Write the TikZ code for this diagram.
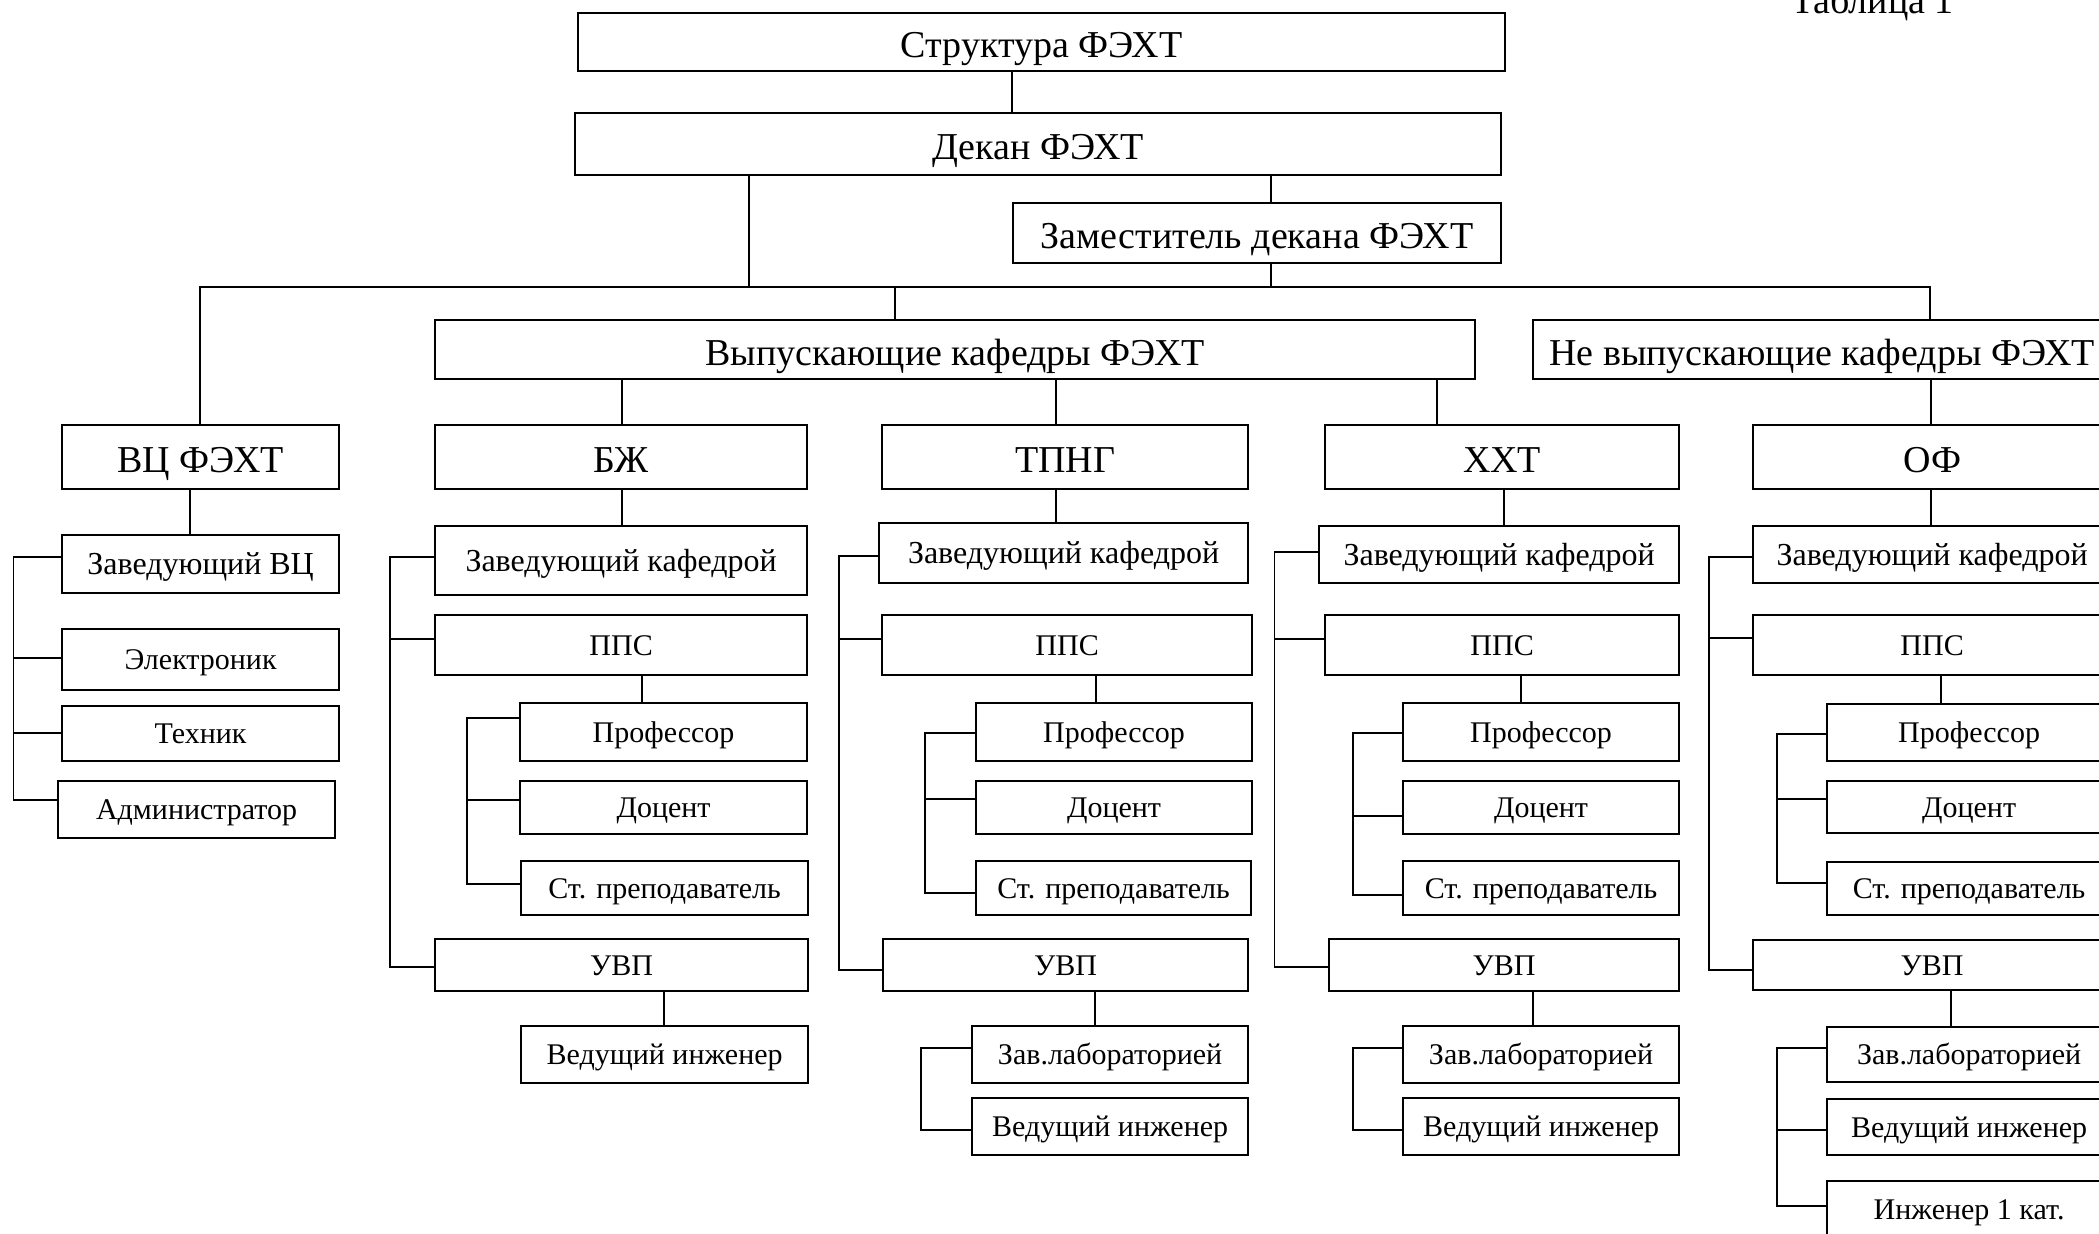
\documentclass[tikz,border=0pt]{standalone}
\usepackage{fontspec}
\setmainfont{Liberation Serif}
\tikzset{
  bx/.style={draw, line width=2.2pt, inner sep=0pt, anchor=north west, align=center},
  big/.style={font=\fontsize{38}{40}\selectfont, text height=31pt, text depth=0pt},
  med/.style={font=\fontsize{32}{34}\selectfont, text height=21pt, text depth=0pt},
  sml/.style={font=\fontsize{30}{32}\selectfont, text height=20pt, text depth=0pt},
  ln/.style={line width=1.6pt}
}
\newcommand{\mkbox}[7]{%
  \pgfmathsetmacro\bw{#5-#3}\pgfmathsetmacro\bh{#6-#4}%
  \node[bx,#1,minimum width=\bw pt,minimum height=\bh pt] (#2) at (#3,#4) {#7};}
\begin{document}
\begin{tikzpicture}[x=1pt,y=-1pt]
\clip (0,0) rectangle (2099,1234);
\fill[white] (0,0) rectangle (2099,1234);
% title
\node[font=\fontsize{38}{40}\selectfont, anchor=base west, inner sep=0pt] (tab) at (1791,13) {Таблица 1};
% top levels
\mkbox{big}{str}{577}{12}{1504}{70}{Структура ФЭХТ}
\mkbox{big}{dek}{574}{112}{1500}{174}{Декан ФЭХТ}
\mkbox{big}{zam}{1012}{202}{1500}{262}{Заместитель декана ФЭХТ}
\mkbox{big}{vyp}{434}{319}{1474}{378}{Выпускающие кафедры ФЭХТ}
\mkbox{big}{nevyp}{1532}{319}{2110}{378}{Не выпускающие кафедры ФЭХТ}
% level 2
\mkbox{big}{vc}{61}{424}{338}{488}{ВЦ ФЭХТ}
\mkbox{big}{bj}{434}{424}{806}{488}{БЖ}
\mkbox{big}{tp}{881}{424}{1247}{488}{ТПНГ}
\mkbox{big}{hh}{1324}{424}{1678}{488}{ХХТ}
\mkbox{big}{of}{1752}{424}{2110}{488}{ОФ}
% VC column
\mkbox{med}{vcZav}{61}{534}{338}{592}{Заведующий ВЦ}
\mkbox{sml}{vcEl}{61}{628}{338}{689}{Электроник}
\mkbox{sml}{vcTe}{61}{705}{338}{760}{Техник}
\mkbox{sml}{vcAd}{57}{780}{334}{837}{Администратор}
% BJ column
\mkbox{med}{bjZav}{434}{525}{806}{594}{Заведующий кафедрой}
\mkbox{sml}{bjPps}{434}{614}{806}{674}{ППС}
\mkbox{sml}{bjPr}{519}{702}{806}{760}{Профессор}
\mkbox{sml}{bjDo}{519}{780}{806}{833}{Доцент}
\mkbox{sml}{bjSt}{520}{860}{807}{914}{Ст. преподаватель}
\mkbox{sml}{bjUvp}{434}{938}{807}{990}{УВП}
\mkbox{sml}{bjVed}{520}{1025}{807}{1082}{Ведущий инженер}
% TPNG column
\mkbox{med}{tpZav}{878}{522}{1247}{582}{Заведующий кафедрой}
\mkbox{sml}{tpPps}{881}{614}{1251}{674}{ППС}
\mkbox{sml}{tpPr}{975}{702}{1251}{760}{Профессор}
\mkbox{sml}{tpDo}{975}{780}{1251}{833}{Доцент}
\mkbox{sml}{tpSt}{975}{860}{1250}{914}{Ст. преподаватель}
\mkbox{sml}{tpUvp}{882}{938}{1247}{990}{УВП}
\mkbox{sml}{tpZl}{971}{1025}{1247}{1082}{Зав.лабораторией}
\mkbox{sml}{tpVed}{971}{1097}{1247}{1154}{Ведущий инженер}
% HHT column
\mkbox{med}{hhZav}{1318}{525}{1678}{582}{Заведующий кафедрой}
\mkbox{sml}{hhPps}{1324}{614}{1678}{674}{ППС}
\mkbox{sml}{hhPr}{1402}{702}{1678}{760}{Профессор}
\mkbox{sml}{hhDo}{1402}{780}{1678}{833}{Доцент}
\mkbox{sml}{hhSt}{1402}{860}{1678}{914}{Ст. преподаватель}
\mkbox{sml}{hhUvp}{1328}{938}{1678}{990}{УВП}
\mkbox{sml}{hhZl}{1402}{1025}{1678}{1082}{Зав.лабораторией}
\mkbox{sml}{hhVed}{1402}{1097}{1678}{1154}{Ведущий инженер}
% OF column
\mkbox{med}{ofZav}{1752}{525}{2110}{582}{Заведующий кафедрой}
\mkbox{sml}{ofPps}{1752}{614}{2110}{674}{ППС}
\mkbox{sml}{ofPr}{1826}{703}{2110}{760}{Профессор}
\mkbox{sml}{ofDo}{1826}{780}{2110}{832}{Доцент}
\mkbox{sml}{ofSt}{1826}{861}{2110}{914}{Ст. преподаватель}
\mkbox{sml}{ofUvp}{1752}{939}{2110}{989}{УВП}
\mkbox{sml}{ofZl}{1826}{1026}{2110}{1081}{Зав.лабораторией}
\mkbox{sml}{ofVed}{1826}{1098}{2110}{1154}{Ведущий инженер}
\mkbox{sml}{ofIng}{1826}{1180}{2110}{1237}{Инженер 1 кат.}
% ---- connectors: top
\draw[ln] (str.south -| 1012,0) -- (dek.north -| 1012,0);
\draw[ln] (dek.south -| 1271,0) -- (zam.north -| 1271,0);
\draw[ln] (zam.south -| 1271,0) -- (1271,287);
\draw[ln] (dek.south -| 749,0) -- (749,287);
\draw[ln] (vc.north -| 200,0) -- (200,287) -- (1930,287) -- (nevyp.north -| 1930,0);
\draw[ln] (895,287) -- (vyp.north -| 895,0);
% level 2
\draw[ln] (vyp.south -| 622,0) -- (bj.north -| 622,0);
\draw[ln] (vyp.south -| 1056,0) -- (tp.north -| 1056,0);
\draw[ln] (vyp.south -| 1437,0) -- (hh.north -| 1437,0);
\draw[ln] (nevyp.south -| 1931,0) -- (of.north -| 1931,0);
% VC
\draw[ln] (vc.south -| 190,0) -- (vcZav.north -| 190,0);
\draw[ln] (vcZav.west |- 0,557) -| (13.5,800) -- (vcAd.west |- 0,800);
\draw[ln] (13.5,658) -- (vcEl.west |- 0,658);
\draw[ln] (13.5,733) -- (vcTe.west |- 0,733);
% BJ
\draw[ln] (bj.south -| 622,0) -- (bjZav.north -| 622,0);
\draw[ln] (bjPps.south -| 642,0) -- (bjPr.north -| 642,0);
\draw[ln] (bjUvp.south -| 664,0) -- (bjVed.north -| 664,0);
\draw[ln] (bjZav.west |- 0,557) -| (390,967) -- (bjUvp.west |- 0,967);
\draw[ln] (390,639) -- (bjPps.west |- 0,639);
\draw[ln] (bjPr.west |- 0,718) -| (467,884) -- (bjSt.west |- 0,884);
\draw[ln] (467,800) -- (bjDo.west |- 0,800);
% TPNG
\draw[ln] (tp.south -| 1056,0) -- (tpZav.north -| 1056,0);
\draw[ln] (tpPps.south -| 1096,0) -- (tpPr.north -| 1096,0);
\draw[ln] (tpUvp.south -| 1095,0) -- (tpZl.north -| 1095,0);
\draw[ln] (tpZav.west |- 0,556) -| (839,970) -- (tpUvp.west |- 0,970);
\draw[ln] (839,639) -- (tpPps.west |- 0,639);
\draw[ln] (tpPr.west |- 0,733) -| (925,893) -- (tpSt.west |- 0,893);
\draw[ln] (925,799) -- (tpDo.west |- 0,799);
\draw[ln] (tpZl.west |- 0,1048) -| (921,1130) -- (tpVed.west |- 0,1130);
% HHT
\draw[ln] (hh.south -| 1504,0) -- (hhZav.north -| 1504,0);
\draw[ln] (hhPps.south -| 1521,0) -- (hhPr.north -| 1521,0);
\draw[ln] (hhUvp.south -| 1533,0) -- (hhZl.north -| 1533,0);
\draw[ln] (hhZav.west |- 0,552) -| (1274.5,967) -- (hhUvp.west |- 0,967);
\draw[ln] (1274.5,639) -- (hhPps.west |- 0,639);
\draw[ln] (hhPr.west |- 0,733) -| (1353,895) -- (hhSt.west |- 0,895);
\draw[ln] (1353,816) -- (hhDo.west |- 0,816);
\draw[ln] (hhZl.west |- 0,1048) -| (1353,1130) -- (hhVed.west |- 0,1130);
% OF
\draw[ln] (of.south -| 1931,0) -- (ofZav.north -| 1931,0);
\draw[ln] (ofPps.south -| 1941,0) -- (ofPr.north -| 1941,0);
\draw[ln] (ofUvp.south -| 1951,0) -- (ofZl.north -| 1951,0);
\draw[ln] (ofZav.west |- 0,557) -| (1709,970) -- (ofUvp.west |- 0,970);
\draw[ln] (1709,638) -- (ofPps.west |- 0,638);
\draw[ln] (ofPr.west |- 0,734) -| (1777,883) -- (ofSt.west |- 0,883);
\draw[ln] (1777,799) -- (ofDo.west |- 0,799);
\draw[ln] (ofZl.west |- 0,1048) -| (1777,1206) -- (ofIng.west |- 0,1206);
\draw[ln] (1777,1130) -- (ofVed.west |- 0,1130);
\end{tikzpicture}
\end{document}
